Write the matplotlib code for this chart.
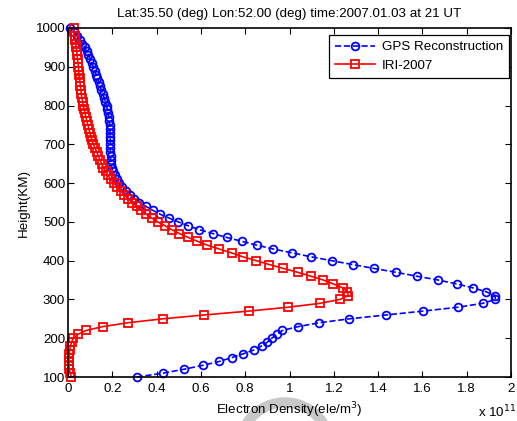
import numpy as np
import matplotlib
matplotlib.use("Agg")
import matplotlib.pyplot as plt
from matplotlib.patches import Wedge

plt.rcParams['font.family'] = ['Liberation Sans', 'DejaVu Sans']

# Heights (km), one profile value every 10 km
heights = np.arange(100, 1001, 10)

# Electron density in units of 1e11 ele/m^3, from 100 km up to 1000 km
gps_density = [
    0.310, 0.430, 0.524, 0.608, 0.683, 0.739, 0.792, 0.841, 0.874, 0.900,
    0.920, 0.942, 0.968, 1.040, 1.135, 1.270, 1.436, 1.604, 1.762, 1.872,
    1.930, 1.928, 1.887, 1.827, 1.755, 1.672, 1.574, 1.481, 1.381, 1.285,
    1.190, 1.097, 1.013, 0.927, 0.852, 0.784, 0.716, 0.653, 0.593, 0.543,
    0.498, 0.456, 0.415, 0.382, 0.352, 0.322, 0.300, 0.280, 0.262, 0.245,
    0.232, 0.220, 0.210, 0.203, 0.198, 0.195, 0.193, 0.192, 0.191, 0.191,
    0.191, 0.191, 0.190, 0.190, 0.189, 0.188, 0.187, 0.185, 0.182, 0.178,
    0.174, 0.169, 0.163, 0.157, 0.151, 0.145, 0.139, 0.133, 0.127, 0.121,
    0.114, 0.107, 0.100, 0.092, 0.084, 0.075, 0.065, 0.054, 0.041, 0.026,
    0.008,
]
iri_density = [
    0.015, 0.010, 0.006, 0.004, 0.004, 0.005, 0.006, 0.008, 0.011, 0.016,
    0.024, 0.045, 0.082, 0.157, 0.272, 0.427, 0.615, 0.817, 0.995, 1.138,
    1.228, 1.265, 1.261, 1.240, 1.198, 1.153, 1.096, 1.037, 0.972, 0.909,
    0.850, 0.789, 0.739, 0.683, 0.629, 0.584, 0.542, 0.503, 0.468, 0.438,
    0.405, 0.378, 0.353, 0.330, 0.310, 0.290, 0.272, 0.255, 0.238, 0.222,
    0.207, 0.193, 0.181, 0.170, 0.160, 0.152, 0.144, 0.137, 0.130, 0.122,
    0.115, 0.109, 0.104, 0.099, 0.094, 0.090, 0.085, 0.081, 0.077, 0.073,
    0.069, 0.066, 0.063, 0.060, 0.058, 0.056, 0.054, 0.052, 0.050, 0.048,
    0.047, 0.045, 0.043, 0.041, 0.039, 0.037, 0.035, 0.033, 0.030, 0.028,
    0.025,
]

x_ticks = [0, 0.2, 0.4, 0.6, 0.8, 1, 1.2, 1.4, 1.6, 1.8, 2]
x_tick_labels = ['0', '0.2', '0.4', '0.6', '0.8', '1', '1.2', '1.4', '1.6', '1.8', '2']
y_ticks = list(range(100, 1001, 100))

FS = 9.6

fig = plt.figure(figsize=(5.17, 4.21), dpi=100)

# faint grey ring near the bottom (scan artefact in the original)
ring = Wedge((2.85, (421 - 448) / 100), 0.50, 0, 180, width=0.09,
             transform=fig.dpi_scale_trans, color='#c8c8c8', zorder=-5)
fig.patches.append(ring)

ax = fig.add_axes([68 / 517, 44 / 421, 443 / 517, 349 / 421])
ax.patch.set_alpha(0)

ax.plot(gps_density, heights, '--o', color='blue', lw=1.2, ms=5.6,
        mfc='none', mew=1.3, label='GPS Reconstruction', clip_on=False)
ax.plot(iri_density, heights, '-s', color='red', lw=1.2, ms=5.6,
        mfc='none', mew=1.3, label='IRI-2007', clip_on=False)

ax.set_xlim(0, 2)
ax.set_ylim(100, 1000)
ax.set_xticks(x_ticks)
ax.set_xticklabels(x_tick_labels)
ax.set_yticks(y_ticks)
ax.tick_params(direction='in', top=True, right=True, length=4, width=0.8,
               labelsize=FS, pad=2)
ax.tick_params(axis='x', pad=4)
for s in ax.spines.values():
    s.set_linewidth(1.2)

ax.set_title('Lat:35.50 (deg) Lon:52.00 (deg) time:2007.01.03 at 21 UT',
             fontsize=FS, pad=8)
ax.set_xlabel('Electron Density(ele/m$^3$)', fontsize=FS, labelpad=4)
ax.set_ylabel('Height(KM)', fontsize=FS, labelpad=4)
fig.text(478 / 517, 1 - 412 / 421, 'x 10$^{11}$', fontsize=FS, va='center')

leg = ax.legend(loc='upper right', bbox_to_anchor=(0.9955, 0.98),
                fontsize=FS, frameon=True, fancybox=False,
                edgecolor='black', framealpha=1, borderaxespad=0,
                handlelength=3.0, handletextpad=0.5, borderpad=0.45,
                labelspacing=0.45)
leg.get_frame().set_linewidth(0.9)

fig.savefig('out.png', dpi=100)
